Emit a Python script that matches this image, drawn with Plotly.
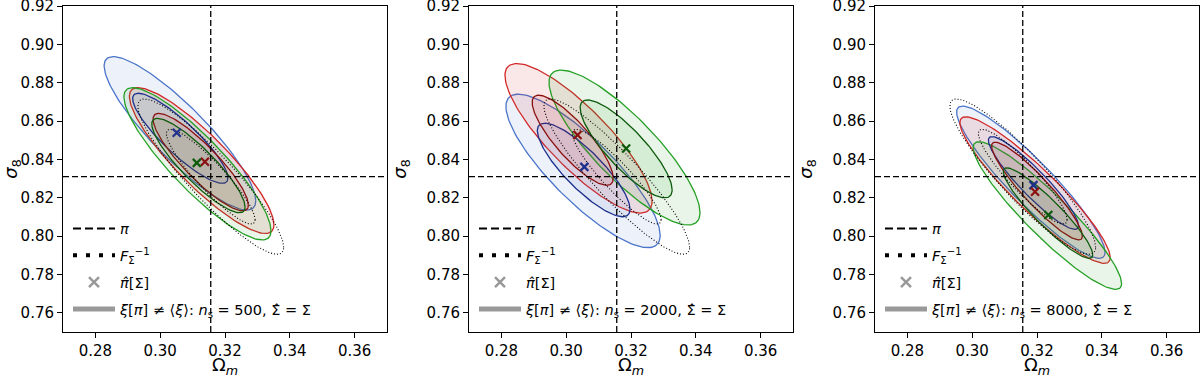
import numpy as np
import plotly.graph_objects as go
from plotly.subplots import make_subplots

# fiducial cosmology pi
om_fid = 0.3156
s8_fid = 0.831

n_sims = [500, 2000, 8000]

# Fisher forecast ellipse, [68%, 95%] half-extents, same in every panel
fisher_hx = [0.0137, 0.0225]
fisher_hy = [0.0247, 0.0405]
fisher_rho = -0.91

# posterior contours, one row per panel, [68%, 95%]
blue_cx = [[0.3062, 0.3061], [0.3054, 0.3052], [0.3189, 0.3181]]
blue_cy = [[0.8510, 0.8536], [0.8345, 0.8340], [0.8277, 0.8281]]
blue_hx = [[0.0147, 0.0234], [0.0143, 0.0238], [0.0139, 0.0229]]
blue_hy = [[0.0235, 0.0400], [0.0244, 0.0400], [0.0242, 0.0397]]

red_cx = [[0.3125, 0.3128], [0.3020, 0.3038], [0.3200, 0.3194]]
red_cy = [[0.8386, 0.8394], [0.8500, 0.8510], [0.8235, 0.8240]]
red_hx = [[0.0147, 0.0223], [0.0125, 0.0227], [0.0140, 0.0232]]
red_hy = [[0.0254, 0.0380], [0.0235, 0.0390], [0.0255, 0.0382]]

green_cx = [[0.3118, 0.3115], [0.3185, 0.3180], [0.3234, 0.3232]]
green_cy = [[0.8368, 0.8377], [0.8455, 0.8462], [0.8120, 0.8107]]
green_hx = [[0.0144, 0.0227], [0.0142, 0.0233], [0.0138, 0.0229]]
green_hy = [[0.0246, 0.0397], [0.0255, 0.0404], [0.0236, 0.0385]]

panel_rho = [-0.88, -0.84, -0.92]

# best fit pi_hat[Sigma]
blue_om = [0.3051, 0.3056, 0.3189]
blue_s8 = [0.8539, 0.8361, 0.8266]
red_om = [0.3138, 0.3035, 0.3194]
red_s8 = [0.8388, 0.8527, 0.8231]
green_om = [0.3113, 0.3185, 0.3235]
green_s8 = [0.8382, 0.8457, 0.8110]


def ellipse(cx, cy, hx, hy, rho, n=160):
    t = np.linspace(0, 2 * np.pi, n)
    x = cx + hx * np.cos(t)
    y = cy + hy * (rho * np.cos(t) + np.sqrt(1 - rho ** 2) * np.sin(t))
    return x, y


series = [
    ("blue", blue_cx, blue_cy, blue_hx, blue_hy, blue_om, blue_s8,
     "#4a74c9", "#1c2f8c", "rgba(74,116,201,0.10)"),
    ("red", red_cx, red_cy, red_hx, red_hy, red_om, red_s8,
     "#d22626", "#8a1010", "rgba(210,38,38,0.11)"),
    ("green", green_cx, green_cy, green_hx, green_hy, green_om, green_s8,
     "#24a024", "#0d5c0d", "rgba(36,160,36,0.10)"),
]

FONT = "DejaVu Sans"
fig = make_subplots(rows=1, cols=3)
legends = ["legend", "legend2", "legend3"]

for p in range(3):
    col = p + 1
    rho = panel_rho[p]
    for name, cx, cy, hx, hy, om, s8, c_out, c_in, c_fill in series:
        x, y = ellipse(cx[p][1], cy[p][1], hx[p][1], hy[p][1], rho)
        fig.add_trace(go.Scatter(x=x, y=y, mode="lines", fill="toself", fillcolor=c_fill,
                                 line=dict(color=c_out, width=1.3), showlegend=False,
                                 hoverinfo="skip"), row=1, col=col)
    for name, cx, cy, hx, hy, om, s8, c_out, c_in, c_fill in series:
        x, y = ellipse(cx[p][0], cy[p][0], hx[p][0], hy[p][0], rho)
        fig.add_trace(go.Scatter(x=x, y=y, mode="lines", fill="toself", fillcolor=c_fill,
                                 line=dict(color=c_in, width=1.3), showlegend=False,
                                 hoverinfo="skip"), row=1, col=col)
    for i in range(2):
        x, y = ellipse(om_fid, s8_fid, fisher_hx[i], fisher_hy[i], fisher_rho)
        fig.add_trace(go.Scatter(x=x, y=y, mode="lines",
                                 line=dict(color="black", width=1.1, dash="1px,2px"),
                                 showlegend=False, hoverinfo="skip"), row=1, col=col)
    for name, cx, cy, hx, hy, om, s8, c_out, c_in, c_fill in series:
        fig.add_trace(go.Scatter(x=[om[p]], y=[s8[p]], mode="markers",
                                 marker=dict(symbol="x-thin", size=8,
                                             line=dict(color=c_in, width=2.2)),
                                 showlegend=False), row=1, col=col)

    fig.add_vline(x=om_fid, line=dict(color="black", width=1.3, dash="6px,3px"), row=1, col=col)
    fig.add_hline(y=s8_fid, line=dict(color="black", width=1.3, dash="6px,3px"), row=1, col=col)

    # legend-only entries
    lg = legends[p]
    fig.add_trace(go.Scatter(x=[None], y=[None], mode="lines", name="<i>π</i>",
                             line=dict(color="black", width=2, dash="8px,4px"),
                             legend=lg, legendgroup=f"a{p}"), row=1, col=col)
    fig.add_trace(go.Scatter(x=[None], y=[None], mode="lines",
                             name="<i>F</i><sub>Σ</sub><sup>−1</sup>",
                             line=dict(color="black", width=4, dash="4px,9px"),
                             legend=lg, legendgroup=f"b{p}"), row=1, col=col)
    fig.add_trace(go.Scatter(x=[None], y=[None], mode="markers", name="<i>π̂</i>[Σ]",
                             marker=dict(symbol="x-thin", size=10,
                                         line=dict(color="#999999", width=2.5)),
                             legend=lg, legendgroup=f"c{p}"), row=1, col=col)
    fig.add_trace(go.Scatter(x=[None], y=[None], mode="lines",
                             name=f"<i>ξ</i>[<i>π</i>] ≠ ⟨<i>ξ</i>⟩: <i>n</i><sub>s</sub> = {n_sims[p]}, Σ̂ = Σ",
                             line=dict(color="#999999", width=5),
                             legend=lg, legendgroup=f"d{p}"), row=1, col=col)

domains = [(63 / 1200, 387 / 1200), (469 / 1200, 793 / 1200), (875 / 1200, 1199 / 1200)]
for p in range(3):
    fig.update_xaxes(domain=domains[p], range=[0.27, 0.37], tickvals=[0.28, 0.30, 0.32, 0.34, 0.36],
                     tickformat=".2f", title=dict(text="Ω<sub><i>m</i></sub>"),
                     row=1, col=p + 1)
    fig.update_yaxes(range=[0.75, 0.92],
                     tickvals=[0.76, 0.78, 0.80, 0.82, 0.84, 0.86, 0.88, 0.90, 0.92],
                     tickformat=".2f", title=dict(text="<i>σ</i><sub>8</sub>"),
                     row=1, col=p + 1)

axis_style = dict(showline=True, mirror=True, linecolor="black", linewidth=1,
                  ticks="outside", ticklen=5, tickcolor="black", showgrid=False,
                  zeroline=False, automargin=False, ticklabeloverflow="allow",
                  tickfont=dict(size=15, color="black", family=FONT))
fig.update_xaxes(**axis_style)
fig.update_yaxes(**axis_style)

leg_style = dict(bgcolor="rgba(0,0,0,0)", font=dict(size=14.5, color="black", family=FONT),
                 xanchor="left", yanchor="bottom", y=0.02, tracegroupgap=5, itemwidth=42)
fig.update_layout(
    width=1200, height=378,
    margin=dict(l=0, r=0, t=6, b=46, autoexpand=False),
    plot_bgcolor="white", paper_bgcolor="white",
    font=dict(family=FONT, size=15, color="black"),
    legend=dict(x=68 / 1200, **leg_style),
    legend2=dict(x=474 / 1200, **leg_style),
    legend3=dict(x=880 / 1200, **leg_style),
)

fig.write_html("out.html", config={"displayModeBar": False},
               post_script="document.body.style.margin='0';")
